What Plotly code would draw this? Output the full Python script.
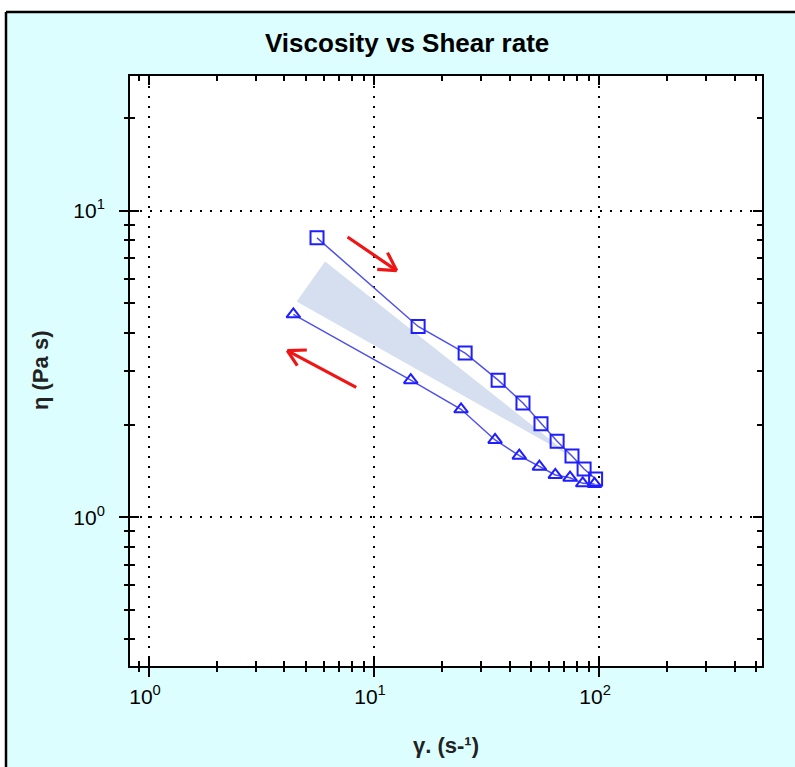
import plotly.graph_objects as go

# Data
rate_up = [5.58, 15.7, 25.4, 35.6, 45.9, 55.2, 65.1, 75.8, 85.8, 96.5]
visc_up = [8.15, 4.19, 3.43, 2.80, 2.36, 2.02, 1.77, 1.585, 1.437, 1.333]
rate_down = [4.38, 14.56, 24.36, 34.5, 44.2, 54.3, 63.9, 74.3, 84.6, 95.5]
visc_down = [4.59, 2.80, 2.25, 1.787, 1.588, 1.462, 1.374, 1.346, 1.29, 1.285]
wedge_x = [6.06, 4.53, 75.9, 6.06]
wedge_y = [6.82, 5.05, 1.573, 6.82]

x_major = [1, 10, 100]
x_major_text = ["10<sup>0</sup>", "10<sup>1</sup>", "10<sup>2</sup>"]
x_minor = [0.9, 2, 3, 4, 5, 6, 7, 8, 9, 20, 30, 40, 50, 60, 70, 80, 90, 200, 300, 400, 500]
y_major = [1, 10]
y_major_text = ["10<sup>0</sup>", "10<sup>1</sup>"]
y_minor = [0.4, 0.5, 0.6, 0.7, 0.8, 0.9, 2, 3, 4, 5, 6, 7, 8, 9, 20]

FONT = "Liberation Sans, Arial, sans-serif"
BLUE_LINE = "rgb(80,80,235)"
BLUE_MARK = "rgb(30,30,255)"
RED = "rgb(240,20,20)"

fig = go.Figure()

fig.add_trace(go.Scatter(x=wedge_x, y=wedge_y, mode="lines", fill="toself",
                         fillcolor="rgb(214,223,240)", line=dict(width=0),
                         hoverinfo="skip", showlegend=False))
fig.add_trace(go.Scatter(x=rate_up, y=visc_up, mode="lines+markers",
                         line=dict(color=BLUE_LINE, width=1.5),
                         marker=dict(symbol="square-open", size=13,
                                     color=BLUE_MARK, line=dict(width=2, color=BLUE_MARK)),
                         showlegend=False))
fig.add_trace(go.Scatter(x=rate_down, y=visc_down, mode="lines+markers",
                         line=dict(color=BLUE_LINE, width=1.5),
                         marker=dict(symbol="triangle-up-open", size=12,
                                     color=BLUE_MARK, line=dict(width=2, color=BLUE_MARK)),
                         showlegend=False))
# dummy trace for overlay axes (inside/mirrored ticks)
fig.add_trace(go.Scatter(x=[None], y=[None], xaxis="x2", yaxis="y2",
                         showlegend=False, hoverinfo="skip"))

xr = [-0.0844, 2.724]
yr = [-0.485, 1.439]

common_axis = dict(type="log", color="black", tickcolor="black", tickwidth=1.5)

fig.update_layout(
    width=795, height=767,
    margin=dict(l=130, r=33, t=76, b=101),
    paper_bgcolor="#DCFEFE",
    plot_bgcolor="white",
    font=dict(family=FONT, size=21, color="#222222"),
    xaxis=dict(**common_axis, range=xr, tickvals=x_major, ticktext=x_major_text,
               ticks="outside", ticklen=9, ticklabelstandoff=2, ticklabelshift=-4,
               minor=dict(ticks="outside", ticklen=4, tickvals=x_minor, tickcolor="black",
                          tickwidth=1.5, showgrid=False),
               showline=True, linecolor="black", linewidth=2, mirror=True,
               showgrid=True, gridcolor="black", gridwidth=1.5, griddash="1.5px,8.5px",
               zeroline=False),
    yaxis=dict(**common_axis, range=yr, tickvals=y_major, ticktext=y_major_text,
               ticks="outside", ticklen=9, ticklabelstandoff=10,
               minor=dict(ticks="outside", ticklen=4, tickvals=y_minor, tickcolor="black",
                          tickwidth=1.5, showgrid=False),
               showline=True, linecolor="black", linewidth=2, mirror=True,
               showgrid=True, gridcolor="black", gridwidth=1.5, griddash="1.5px,8.5px",
               zeroline=False),
    xaxis2=dict(**common_axis, range=xr, overlaying="x", anchor="y", side="bottom",
                tickvals=x_major, ticks="inside", ticklen=9, mirror="allticks",
                minor=dict(ticks="inside", ticklen=5, tickvals=x_minor, tickcolor="black",
                           tickwidth=1.5, showgrid=False),
                showticklabels=False, showgrid=False, showline=False, zeroline=False),
    yaxis2=dict(**common_axis, range=yr, overlaying="y", anchor="x", side="left",
                tickvals=y_major, ticks="inside", ticklen=9, mirror="allticks",
                minor=dict(ticks="inside", ticklen=5, tickvals=y_minor, tickcolor="black",
                           tickwidth=1.5, showgrid=False),
                showticklabels=False, showgrid=False, showline=False, zeroline=False),
)

# window frame: white outside, black border at top/left
fig.add_shape(type="rect", xref="paper", yref="paper", x0=-0.3, x1=1.2, y0=1.1102, y1=1.3,
              fillcolor="white", line=dict(width=0), layer="above")
fig.add_shape(type="rect", xref="paper", yref="paper", x0=-0.3, x1=-0.1978, y0=-0.3, y1=1.3,
              fillcolor="white", line=dict(width=0), layer="above")
fig.add_shape(type="line", xref="paper", yref="paper", x0=-0.1962, x1=1.2, y0=1.1085, y1=1.1085,
              line=dict(color="black", width=2.5), layer="above")
fig.add_shape(type="line", xref="paper", yref="paper", x0=-0.1962, x1=-0.1962, y0=-0.3, y1=1.1085,
              line=dict(color="black", width=2.5), layer="above")

# titles
fig.add_annotation(text="<b>Viscosity vs Shear rate</b>", xref="paper", yref="paper",
                   x=0.438, y=1.056, showarrow=False, xanchor="center", yanchor="middle",
                   font=dict(family=FONT, size=26, color="black"))
fig.add_annotation(text="<b>γ. (s-¹)</b>", xref="paper", yref="paper",
                   x=0.5, y=-0.134, showarrow=False, xanchor="center", yanchor="middle",
                   font=dict(family=FONT, size=22, color="#222222"))
fig.add_annotation(text="<b>η (Pa s)</b>", xref="paper", yref="paper",
                   x=-0.1424, y=0.50, showarrow=False, textangle=-90,
                   xanchor="center", yanchor="middle",
                   font=dict(family=FONT, size=22, color="#222222"))

# red direction arrows: open V heads built from three strokes each
# (tip in log10 axis units, strokes as pixel offsets from the tip)
arrow_tips = [(1.1009, 0.8043), (0.6147, 0.5434)]
arrow_strokes = [
    [(-50.7, -34.7), (-10.0, -19.5), (-21.0, -1.4)],
    [(70.4, 37.6), (21.0, -0.7), (11.0, 16.6)],
]
for (tx, ty), strokes in zip(arrow_tips, arrow_strokes):
    for sx, sy in strokes:
        fig.add_annotation(x=tx, y=ty, xref="x", yref="y", ax=sx, ay=sy,
                           axref="pixel", ayref="pixel", text="", showarrow=True,
                           arrowhead=0, arrowwidth=3.2, arrowcolor=RED)

fig.write_html("out.html", config={"displayModeBar": False},
               post_script="document.body.style.margin='0px';")
